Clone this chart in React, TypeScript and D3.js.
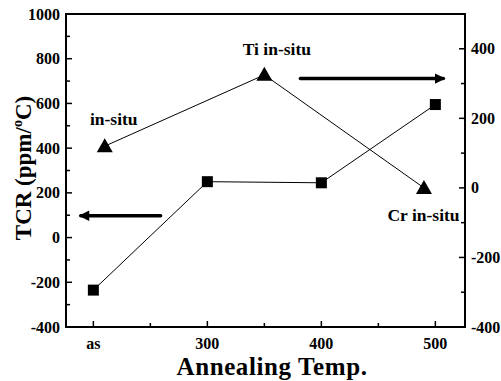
import React from 'react';
import * as d3 from 'd3';

// annealing temperature positions ("as" = as-deposited)
const xTickValues = [200, 300, 400, 500];
const xTickLabels = ['as', '300', '400', '500'];
const xMinorTicks = [250, 350, 450];

// TCR on left axis (squares)
const squareTemps = [200, 300, 400, 500];
const squareTcr = [-235, 250, 245, 595];

// right axis series (triangles)
const triTemps = [210, 350, 490];
const triTcr = [120, 325, 0];

const leftTicks = [-400, -200, 0, 200, 400, 600, 800, 1000];
const leftMinor = [-300, -100, 100, 300, 500, 700, 900];
const rightTicks = [-400, -200, 0, 200, 400];
const rightMinor = [-300, -100, 100, 300];

const FONT = '"Liberation Serif", "Times New Roman", serif';

export default function App() {
  const width = 501;
  const height = 381;
  const margin = { top: 14, right: 36, bottom: 54, left: 66 };

  const x = d3.scaleLinear().domain([176, 526]).range([margin.left, width - margin.right]);
  const yL = d3.scaleLinear().domain([-400, 1000]).range([height - margin.bottom, margin.top]);
  const yR = d3.scaleLinear().domain([-400, 500]).range([height - margin.bottom, margin.top]);

  const x0 = margin.left;
  const x1 = width - margin.right;
  const y0 = height - margin.bottom;
  const y1 = margin.top;

  const lineL = d3.line<number>()
    .x((_, i) => x(squareTemps[i]))
    .y((d) => yL(d));
  const lineR = d3.line<number>()
    .x((_, i) => x(triTemps[i]))
    .y((d) => yR(d));

  const tri = (cx: number, cy: number) => {
    const s = 8;
    return `M${cx},${cy - s}L${cx + s},${cy + s * 0.75}L${cx - s},${cy + s * 0.75}Z`;
  };

  return (
    <svg width={width} height={height} style={{ position: 'absolute', left: 0, top: 0, background: '#fff' }}>
      <defs>
        <marker id="ah" viewBox="0 0 10 10" refX="8" refY="5" markerWidth="3.2" markerHeight="3" orient="auto-start-reverse">
          <path d="M0,0L10,5L0,10Z" fill="#000" />
        </marker>
      </defs>

      {/* frame */}
      <rect x={x0} y={y1} width={x1 - x0} height={y0 - y1} fill="none" stroke="#000" strokeWidth={2} />

      {/* bottom ticks */}
      {xTickValues.map((v, i) => (
        <g key={'xt' + v}>
          <line x1={x(v)} x2={x(v)} y1={y0} y2={y0 - 6} stroke="#000" strokeWidth={1.5} />
          <text x={x(v)} y={y0 + 22} textAnchor="middle" fontFamily={FONT} fontWeight="bold" fontSize={16}>
            {xTickLabels[i]}
          </text>
        </g>
      ))}
      {xMinorTicks.map((v) => (
        <line key={'xm' + v} x1={x(v)} x2={x(v)} y1={y0} y2={y0 - 4} stroke="#000" strokeWidth={1.5} />
      ))}

      {/* left axis */}
      {leftTicks.map((v) => (
        <g key={'lt' + v}>
          <line x1={x0} x2={x0 + 6} y1={yL(v)} y2={yL(v)} stroke="#000" strokeWidth={1.5} />
          <text x={x0 - 6} y={yL(v)} dy="0.35em" textAnchor="end" fontFamily={FONT} fontWeight="bold" fontSize={16}>
            {v}
          </text>
        </g>
      ))}
      {leftMinor.map((v) => (
        <line key={'lm' + v} x1={x0} x2={x0 + 4} y1={yL(v)} y2={yL(v)} stroke="#000" strokeWidth={1.5} />
      ))}

      {/* right axis */}
      {rightTicks.map((v) => (
        <g key={'rt' + v}>
          <line x1={x1} x2={x1 - 6} y1={yR(v)} y2={yR(v)} stroke="#000" strokeWidth={1.5} />
          <text x={x1 + 6} y={yR(v)} dy="0.35em" textAnchor="start" fontFamily={FONT} fontWeight="bold" fontSize={16}>
            {v}
          </text>
        </g>
      ))}
      {rightMinor.map((v) => (
        <line key={'rm' + v} x1={x1} x2={x1 - 4} y1={yR(v)} y2={yR(v)} stroke="#000" strokeWidth={1.5} />
      ))}

      {/* series */}
      <path d={lineL(squareTcr) || ''} fill="none" stroke="#000" strokeWidth={1} />
      <path d={lineR(triTcr) || ''} fill="none" stroke="#000" strokeWidth={1} />
      {squareTcr.map((v, i) => (
        <rect key={'sq' + i} x={x(squareTemps[i]) - 5.5} y={yL(v) - 5.5} width={11} height={11} fill="#000" />
      ))}
      {triTcr.map((v, i) => (
        <path key={'tr' + i} d={tri(x(triTemps[i]), yR(v))} fill="#000" />
      ))}

      {/* annotations */}
      <text x={x(197)} y={yL(505)} fontFamily={FONT} fontWeight="bold" fontSize={17.5}>in-situ</text>
      <text x={x(331)} y={yL(815)} fontFamily={FONT} fontWeight="bold" fontSize={17.5}>Ti in-situ</text>
      <text x={x(458)} y={yL(76)} fontFamily={FONT} fontWeight="bold" fontSize={17.5}>Cr in-situ</text>

      <line x1={x(189)} x2={x(259)} y1={yL(98)} y2={yL(98)} stroke="#000" strokeWidth={3.5}
        markerStart="url(#ah)" strokeLinecap="round" />
      <line x1={x(381.6)} x2={x(507)} y1={yL(711)} y2={yL(711)} stroke="#000" strokeWidth={3.5}
        markerEnd="url(#ah)" strokeLinecap="round" />

      {/* axis titles */}
      <text x={272} y={375} textAnchor="middle" fontFamily={FONT} fontWeight="bold" fontSize={25} letterSpacing={0.6}>
        Annealing Temp.
      </text>
      <text transform={`translate(31, ${168}) rotate(-90)`} textAnchor="middle" fontFamily={FONT} fontWeight="bold" fontSize={23}>
        TCR (ppm/<tspan fontSize={14} dy={-9}>o</tspan><tspan dy={9}>C)</tspan>
      </text>
    </svg>
  );
}
